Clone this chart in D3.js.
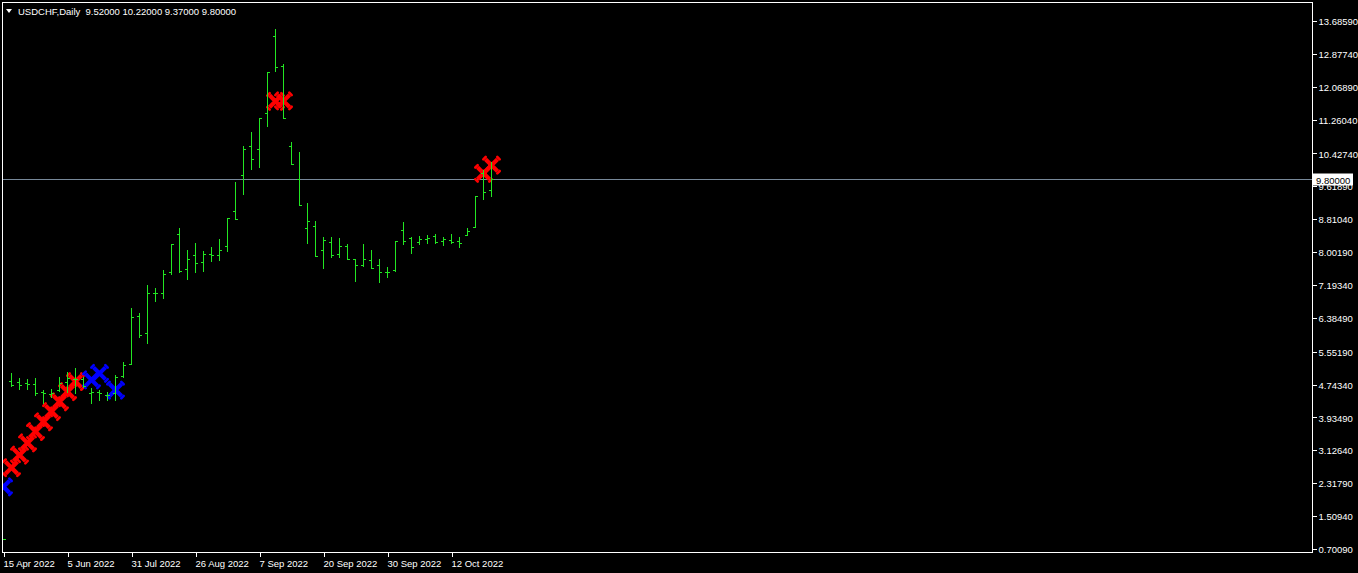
<!DOCTYPE html>
<html>
<head>
<meta charset="utf-8">
<script src="https://cdn.jsdelivr.net/npm/d3@7"></script>
<style>
  html, body { margin: 0; padding: 0; background: #000; }
  svg { display: block; }
  text { font-family: "Liberation Sans", Arial, sans-serif; }
</style>
</head>
<body>
<div id="chart"></div>
<script>
// daily bars
var open = [0.94, 4.84, 4.82, 4.79, 4.76, 4.56, 4.51, 4.61, 4.82, 4.87, 4.89, 4.53, 4.56, 4.49, 4.53, 4.96,
  5.24, 6.42, 6.01, 6.99, 6.99, 7.51, 8.44, 7.58, 7.92, 7.75, 7.95, 7.92, 8.15, 9.01, 9.89, 10.60,
  10.53, 11.42, 13.32, 12.57, 10.60, 9.79, 8.59, 8.64, 8.05, 8.24, 7.95, 8.15, 7.83, 7.68, 7.80, 7.68,
  7.51, 7.55, 8.55, 8.34, 8.24, 8.33, 8.40, 8.28, 8.30, 8.28, 8.42, 8.61, 9.94, 9.52];
var high = [0.94, 5.02, 4.91, 4.89, 4.91, 4.61, 4.64, 4.92, 5.05, 5.15, 4.92, 4.66, 4.61, 4.56, 4.98, 5.29,
  6.64, 6.50, 7.19, 7.11, 7.56, 8.20, 8.60, 8.05, 8.23, 8.02, 8.13, 8.32, 8.83, 9.73, 10.61, 10.96,
  11.29, 12.42, 13.49, 12.62, 10.71, 10.46, 9.21, 8.77, 8.37, 8.37, 8.35, 8.20, 7.83, 8.20, 8.05, 7.83,
  7.64, 8.27, 8.74, 8.37, 8.40, 8.42, 8.45, 8.37, 8.45, 8.37, 8.60, 9.37, 10.02, 10.22];
var low = [0.94, 4.71, 4.64, 4.64, 4.50, 4.28, 4.43, 4.59, 4.56, 4.53, 4.69, 4.30, 4.37, 4.37, 4.37, 4.92,
  5.24, 5.91, 5.77, 6.81, 6.88, 7.46, 7.52, 7.35, 7.52, 7.54, 7.79, 7.82, 8.04, 8.81, 9.43, 10.05,
  10.10, 11.11, 12.46, 11.29, 10.16, 9.15, 8.23, 7.90, 7.62, 7.89, 7.89, 7.83, 7.30, 7.65, 7.60, 7.27,
  7.40, 7.53, 8.21, 7.99, 8.20, 8.22, 8.22, 8.18, 8.22, 8.12, 8.42, 8.61, 9.30, 9.37];
var close = [0.94, 4.73, 4.73, 4.76, 4.54, 4.53, 4.54, 4.78, 4.91, 4.88, 4.71, 4.56, 4.53, 4.49, 4.92, 5.22,
  6.41, 5.96, 6.99, 6.99, 7.46, 8.19, 7.53, 7.83, 7.73, 7.95, 7.92, 8.05, 8.83, 8.81, 10.53, 10.28,
  11.29, 12.42, 12.55, 11.29, 10.16, 9.15, 8.76, 7.90, 8.30, 7.92, 8.15, 7.83, 7.68, 7.83, 7.60, 7.51,
  7.52, 8.27, 8.27, 8.12, 8.33, 8.34, 8.24, 8.32, 8.24, 8.22, 8.52, 9.37, 9.47, 9.80];

// arrow signals (bar index, price)
var redBars = [1, 2, 3, 4, 5, 6, 7, 8, 9, 34, 35, 60, 61];
var redPrices = [2.70, 3.01, 3.31, 3.59, 3.83, 4.08, 4.32, 4.57, 4.82, 11.71, 11.72, 9.94, 10.14];
var blueBars = [0, 11, 12, 14];
var bluePrices = [2.23, 4.86, 5.02, 4.61];

// axes
var dateBars = [0, 8, 16, 24, 32, 40, 48, 56];
var dateLabels = ["15 Apr 2022", "5 Jun 2022", "31 Jul 2022", "26 Aug 2022", "7 Sep 2022",
  "20 Sep 2022", "30 Sep 2022", "12 Oct 2022"];
var priceTicks = [0.70090, 1.50940, 2.31790, 3.12640, 3.93490, 4.74340, 5.55190, 6.38490, 7.19340,
  8.00190, 8.81040, 9.61890, 10.42740, 11.26040, 12.06890, 12.87740, 13.68590];
var symbol = "USDCHF,Daily";

var W = 1358, H = 573;
var frame = { left: 2.5, top: 2.5, right: 1312.5, bottom: 552.5 };
var barStep = 8;
var n = open.length;

var svg = d3.select("#chart").append("svg")
  .attr("width", W).attr("height", H)
  .style("background", "#000");

var x = d3.scalePoint()
  .domain(d3.range(n))
  .range([3.5, 3.5 + (n - 1) * barStep]);
var y = d3.scaleLinear()
  .domain([priceTicks[0], priceTicks[priceTicks.length - 1]])
  .range([549, 21]);
var py = function (v) { return Math.round(y(v)) + 0.5; };

svg.append("clipPath").attr("id", "plot")
  .append("rect")
  .attr("x", frame.left + 0.5).attr("y", frame.top + 0.5)
  .attr("width", frame.right - frame.left - 1)
  .attr("height", frame.bottom - frame.top - 1);

var plot = svg.append("g").attr("clip-path", "url(#plot)");

// current price line
var last = close[n - 1];
plot.append("line")
  .attr("x1", frame.left).attr("x2", frame.right)
  .attr("y1", py(last)).attr("y2", py(last))
  .attr("stroke", "#778899").attr("stroke-width", 1);

// signal crosses, thick X with small split ends
function cross(g, color) {
  g.append("path")
    .attr("d", "M-6,-6L6,6M-6,6L6,-6")
    .attr("stroke", color).attr("stroke-width", 4.2).attr("stroke-linecap", "butt");
  [[-1, -1], [1, 1], [-1, 1], [1, -1]].forEach(function (a) {
    var ex = a[0] * 6, ey = a[1] * 6;
    g.append("path")
      .attr("d", "M" + (ex + a[0] * 2.2) + "," + (ey - a[1] * 0.2) +
        "L" + (ex - a[0] * 0.2) + "," + (ey + a[1] * 2.2))
      .attr("stroke", color).attr("stroke-width", 2.6).attr("stroke-linecap", "round");
  });
}

function drawMarks(bars, prices, color) {
  plot.selectAll(null)
    .data(bars.map(function (b, i) { return { bar: b, price: prices[i] }; }))
    .enter().append("g")
    .attr("transform", function (d) { return "translate(" + x(d.bar) + "," + y(d.price) + ")"; })
    .each(function () { cross(d3.select(this), color); });
}
drawMarks(redBars, redPrices, "#ff0000");
drawMarks(blueBars, bluePrices, "#0000ff");

// OHLC bars
var bars = plot.selectAll(".bar")
  .data(d3.range(n))
  .enter().append("g")
  .attr("class", "bar")
  .attr("stroke", "#22e622")
  .attr("stroke-width", 1)
  .attr("shape-rendering", "crispEdges");

bars.append("line")
  .attr("x1", function (i) { return x(i); }).attr("x2", function (i) { return x(i); })
  .attr("y1", function (i) { return py(high[i]) - 0.5; })
  .attr("y2", function (i) { return py(low[i]) + 0.5; });
bars.append("line")
  .attr("x1", function (i) { return x(i) - 2.5; }).attr("x2", function (i) { return x(i); })
  .attr("y1", function (i) { return py(open[i]); })
  .attr("y2", function (i) { return py(open[i]); });
bars.append("line")
  .attr("x1", function (i) { return x(i); }).attr("x2", function (i) { return x(i) + 2.5; })
  .attr("y1", function (i) { return py(close[i]); })
  .attr("y2", function (i) { return py(close[i]); });

// frame
svg.append("rect")
  .attr("x", frame.left).attr("y", frame.top)
  .attr("width", frame.right - frame.left)
  .attr("height", frame.bottom - frame.top)
  .attr("fill", "none").attr("stroke", "#fff").attr("stroke-width", 1);

// right price axis
var yAxis = d3.axisRight(y)
  .tickValues(priceTicks)
  .tickFormat(function (d) { return d.toFixed(5); })
  .tickSize(4).tickPadding(2);
var ya = svg.append("g")
  .attr("transform", "translate(" + frame.right + ",0)")
  .call(yAxis);
ya.select(".domain").remove();
ya.selectAll(".tick line").attr("stroke", "#fff").attr("shape-rendering", "crispEdges");
ya.selectAll(".tick text")
  .attr("fill", "#fff").attr("font-size", 9.5).attr("dy", "0.38em")
  .style("font-family", "'Liberation Sans', Arial, sans-serif");

// bottom date axis
var xAxis = d3.axisBottom(x)
  .tickValues(dateBars)
  .tickFormat(function (d) { return dateLabels[dateBars.indexOf(d)]; })
  .tickSize(4).tickPadding(4);
var xa = svg.append("g")
  .attr("transform", "translate(0," + frame.bottom + ")")
  .call(xAxis);
xa.select(".domain").remove();
xa.selectAll(".tick line").attr("stroke", "#fff").attr("shape-rendering", "crispEdges");
xa.selectAll(".tick text")
  .attr("fill", "#fff").attr("font-size", 9.5)
  .attr("text-anchor", "start").attr("x", -0.5)
  .style("font-family", "'Liberation Sans', Arial, sans-serif");

// current price label on the axis
var lbl = svg.append("g").attr("transform", "translate(" + (frame.right + 0.5) + "," + py(last) + ")");
lbl.append("rect")
  .attr("x", 0).attr("y", -6).attr("width", 40).attr("height", 12)
  .attr("fill", "#fff");
lbl.append("text")
  .attr("x", 3).attr("y", 4)
  .attr("fill", "#000").attr("font-size", 9.5)
  .text(last.toFixed(5));

// header
svg.append("path")
  .attr("d", "M6,9L12,9L9,13Z")
  .attr("fill", "#fff");
svg.append("text")
  .attr("x", 18).attr("y", 15)
  .attr("fill", "#fff").attr("font-size", 9.5)
  .attr("xml:space", "preserve")
  .text(symbol + "  " + [open[n - 1], high[n - 1], low[n - 1], close[n - 1]]
    .map(function (v) { return v.toFixed(5); }).join(" "));
</script>
</body>
</html>
